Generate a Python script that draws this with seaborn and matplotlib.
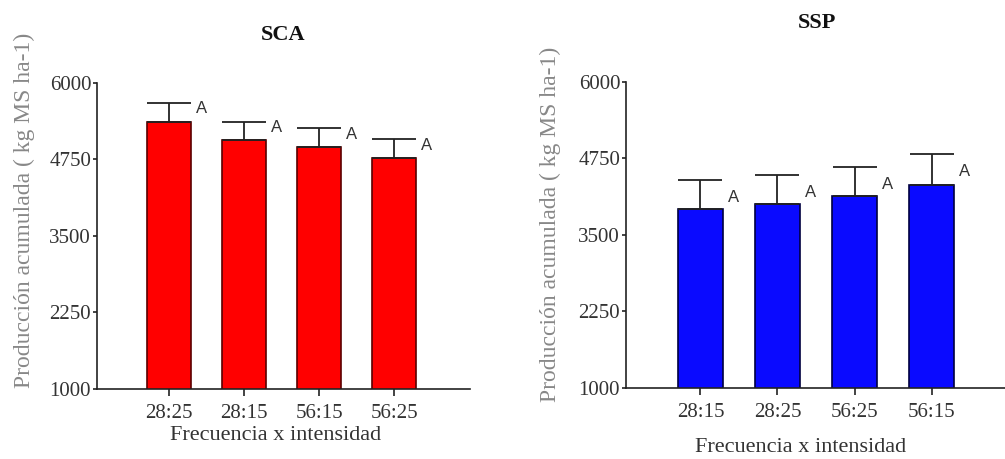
import seaborn as sns
import matplotlib.pyplot as plt

# SCA panel
sca_cats = ['28:25', '28:15', '56:15', '56:25']
sca_vals = [5368, 5064, 4960, 4775]
sca_err = [310, 304, 305, 305]
sca_letters = ['A', 'A', 'A', 'A']

# SSP panel
ssp_cats = ['28:15', '28:25', '56:25', '56:15']
ssp_vals = [3920, 4001, 4132, 4312]
ssp_err = [470, 470, 470, 500]
ssp_letters = ['A', 'A', 'A', 'A']

yticks = [1000, 2250, 3500, 4750, 6000]

sns.set_style('ticks')
plt.rcParams['font.family'] = ['Liberation Serif', 'DejaVu Serif']

fig = plt.figure(figsize=(10.05, 4.59), dpi=100)
ax1 = fig.add_axes([0.0962, 0.1525, 0.3715, 0.6667])
ax2 = fig.add_axes([0.6226, 0.1553, 0.381, 0.6667])


def panel(ax, cats, vals, err, letters, color, edge, title, xlim,
          title_y, xlab_pos, ylab_pos, letter_off):
    sns.barplot(x=cats, y=vals, color=color, width=0.58, edgecolor=edge,
                linewidth=1.2, saturation=1, ax=ax)
    ax.errorbar(range(len(cats)), vals, yerr=[[0] * len(cats), err],
                fmt='none', ecolor='#222222', elinewidth=1.3,
                capsize=15.8, capthick=1.3)
    for i, (v, e, t) in enumerate(zip(vals, err, letters)):
        ax.text(i + 0.43, v + e + letter_off, t, ha='center', va='center',
                fontsize=12, family=['Liberation Sans', 'DejaVu Sans'],
                color='#333333')
    ax.set_ylim(1000, 6000)
    ax.set_xlim(*xlim)
    ax.set_yticks(yticks)
    ax.spines['top'].set_visible(False)
    ax.spines['right'].set_visible(False)
    for s in ['left', 'bottom']:
        ax.spines[s].set_linewidth(1.2)
        ax.spines[s].set_color('#222222')
    ax.tick_params(axis='both', direction='out', width=1.2,
                   color='#222222', labelsize=15, labelcolor='#333333')
    ax.tick_params(axis='y', pad=1, length=3)
    ax.tick_params(axis='x', pad=6, length=5)
    ax.set_title(title, fontsize=16, fontweight='bold', y=title_y,
                 color='#111111')
    ax.set_xlabel('Frecuencia x intensidad', fontsize=16, color='#333333')
    ax.xaxis.set_label_coords(*xlab_pos)
    ax.set_ylabel('Producción acumulada ( kg MS ha-1)', fontsize=17,
                  color='#888888')
    ax.yaxis.set_label_coords(*ylab_pos)


panel(ax1, sca_cats, sca_vals, sca_err, sca_letters, '#ff0000', '#5a0000',
      'SCA', (-0.96, 4.01), 1.114, (0.48, -0.12), (-0.165, 0.585), -100)
panel(ax2, ssp_cats, ssp_vals, ssp_err, ssp_letters, '#0a0aff', '#000040',
      'SSP', (-0.97, 4.0), 1.149, (0.457, -0.165), (-0.169, 0.535), -280)

fig.savefig('out.png', dpi=100)
